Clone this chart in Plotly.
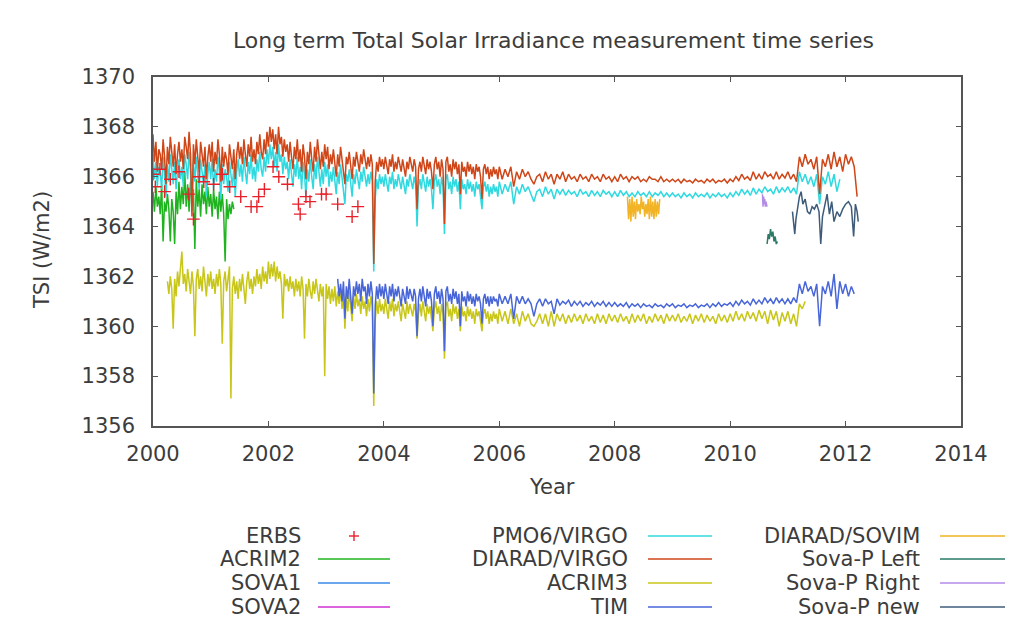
import plotly.graph_objects as go

# ---------------------------------------------------------------------------
# Total Solar Irradiance records (W/m2). The busy solar-maximum years are
# sampled on a finer step than the quiet years, so each of the long records
# is split into an "active" and a "quiet" block (start year, step, values).
# ---------------------------------------------------------------------------

DIARAD_VIRGO_ACTIVE_START, DIARAD_VIRGO_ACTIVE_STEP = 2000.00, 0.025
DIARAD_VIRGO_ACTIVE = [
    # 2000.0
    1367.7, 1366.6, 1367.4, 1366.2, 1367.1, 1366.9, 1366.3, 1367.5, 1366.8, 1365.7,
    1367.2, 1366.5, 1367.6, 1367.0, 1366.4, 1367.3, 1366.1, 1366.9, 1367.4, 1366.6,
    # 2000.5
    1367.1, 1366.3, 1367.6, 1367.2, 1366.7, 1367.8, 1366.9, 1364.4, 1367.3, 1366.5,
    1367.5, 1366.8, 1366.2, 1367.4, 1367.0, 1366.4, 1367.2, 1365.9, 1366.8, 1367.3,
    # 2001.0
    1366.6, 1367.4, 1366.2, 1367.0, 1366.5, 1367.5, 1366.9, 1365.8, 1367.2, 1366.4,
    1367.0, 1366.7, 1366.1, 1367.3, 1366.8, 1366.3, 1367.1, 1365.9, 1366.9, 1367.4,
    # 2001.5
    1366.7, 1367.2, 1366.5, 1367.5, 1366.9, 1366.4, 1367.3, 1366.8, 1367.6, 1366.6,
    1367.1, 1366.5, 1367.4, 1366.9, 1367.7, 1367.0, 1366.7, 1367.5, 1366.9, 1367.8,
    # 2002.0
    1367.2, 1368.0, 1367.4, 1367.9, 1367.1, 1367.7, 1366.9, 1368.0, 1367.3, 1367.6,
    1366.8, 1367.5, 1367.0, 1367.3, 1366.6, 1367.4, 1366.8, 1366.3, 1367.2, 1366.7,
    # 2002.5
    1367.5, 1366.6, 1367.1, 1366.2, 1367.3, 1366.8, 1365.9, 1367.0, 1366.5, 1367.4,
    1366.7, 1366.2, 1367.2, 1366.6, 1367.5, 1366.9, 1366.3, 1367.0, 1366.4, 1367.3,
    # 2003.0
    1366.7, 1367.2, 1366.3, 1366.9, 1366.5, 1367.1, 1366.6, 1366.0, 1366.9, 1366.4,
    1367.2, 1366.7, 1366.2, 1365.7, 1366.8, 1366.5, 1367.0, 1366.3, 1365.9, 1366.8,
    # 2003.5
    1366.4, 1367.0, 1366.6, 1366.2, 1366.9, 1366.5, 1367.1, 1366.6, 1366.3, 1366.8,
    1366.4, 1366.9, 1366.5, 1362.5, 1365.8, 1366.6, 1366.2, 1366.8, 1366.4, 1366.7,
    # 2004.0
    1366.3, 1366.8, 1366.5, 1366.1, 1366.7, 1366.4, 1366.9, 1366.2, 1366.6, 1366.3,
    1366.8, 1366.5, 1366.2, 1366.7, 1366.4, 1366.0, 1366.6, 1366.3, 1366.8, 1366.5,
    # 2004.5
    1366.2, 1366.7, 1366.4, 1364.7, 1366.3, 1366.6, 1366.2, 1366.8, 1366.4, 1366.1,
    1366.7, 1366.3, 1366.6, 1366.2, 1365.5, 1366.5, 1366.8, 1366.3, 1366.6, 1366.0,
    # 2005.0
    1366.7, 1366.3, 1364.1, 1366.6, 1366.8, 1366.2, 1366.5, 1366.0, 1366.7, 1366.3,
    1366.6, 1366.1, 1366.5, 1365.3, 1366.6, 1366.2, 1366.4, 1366.0, 1366.6, 1366.2,
    # 2005.5
    1366.5, 1366.1, 1366.4, 1365.9, 1366.5, 1366.2, 1366.4, 1366.0, 1365.1, 1366.3,
    1366.5, 1366.1, 1366.4, 1365.9, 1366.3, 1366.0, 1366.4, 1366.1, 1366.3, 1365.9,
]
DIARAD_VIRGO_QUIET_START, DIARAD_VIRGO_QUIET_STEP = 2006.00, 0.05
DIARAD_VIRGO_QUIET = [
    # 2006
    1366.4, 1365.9, 1366.3, 1366.0, 1366.4, 1365.6, 1366.2, 1365.9, 1366.3, 1366.0,
    1366.2, 1365.9, 1365.7, 1366.0, 1366.1, 1365.8, 1366.2, 1365.9, 1366.1, 1365.7,
    # 2007
    1366.1, 1365.9, 1366.2, 1365.8, 1366.1, 1365.9, 1366.0, 1365.8, 1366.1, 1365.9,
    1366.0, 1365.8, 1366.1, 1365.9, 1366.0, 1365.8, 1366.1, 1365.9, 1366.0, 1365.8,
    # 2008
    1366.0, 1365.8, 1366.1, 1365.9, 1366.0, 1365.8, 1366.0, 1365.9, 1366.0, 1365.8,
    1365.9, 1365.8, 1366.0, 1365.9, 1365.9, 1365.8, 1366.0, 1365.8, 1365.9, 1365.8,
    # 2009
    1365.9, 1365.8, 1365.9, 1365.75, 1365.9, 1365.8, 1365.85, 1365.75, 1365.9, 1365.8,
    1365.85, 1365.75, 1365.9, 1365.8, 1365.9, 1365.75, 1365.85, 1365.8, 1365.9, 1365.75,
    # 2010
    1365.9, 1365.8, 1366.0, 1365.85, 1366.1, 1365.9, 1366.0, 1365.85, 1366.2, 1365.9,
    1366.1, 1365.9, 1366.2, 1366.0, 1366.1, 1365.9, 1366.2, 1365.9, 1366.1, 1365.95,
    # 2011
    1366.2, 1365.9, 1366.1, 1365.8, 1366.8, 1366.4, 1366.9, 1366.5, 1366.7, 1366.3,
    1366.8, 1365.3, 1366.7, 1366.4, 1366.9, 1366.3, 1367.0, 1366.4, 1366.8, 1366.2,
    # 2012
    1366.9, 1366.5, 1366.8, 1366.4, 1365.2,
]

PMO6_VIRGO_ACTIVE_START, PMO6_VIRGO_ACTIVE_STEP = 2000.00, 0.025
PMO6_VIRGO_ACTIVE = [
    # 2000.0
    1366.9, 1365.9, 1366.6, 1365.6, 1366.4, 1366.2, 1365.5, 1366.8, 1366.1, 1365.2,
    1366.5, 1365.8, 1366.9, 1366.3, 1365.7, 1366.6, 1365.5, 1366.2, 1366.7, 1365.9,
    # 2000.5
    1366.4, 1365.6, 1366.9, 1366.5, 1365.9, 1367.0, 1366.2, 1364.6, 1366.6, 1365.8,
    1366.8, 1366.1, 1365.5, 1366.7, 1366.3, 1365.7, 1366.5, 1365.2, 1366.1, 1366.6,
    # 2001.0
    1365.9, 1366.7, 1365.5, 1366.3, 1365.8, 1366.8, 1366.2, 1365.1, 1366.5, 1365.7,
    1366.3, 1366.0, 1365.4, 1366.6, 1366.1, 1365.6, 1366.4, 1365.2, 1366.2, 1366.7,
    # 2001.5
    1366.0, 1366.5, 1365.8, 1366.8, 1366.2, 1365.7, 1366.6, 1366.1, 1366.9, 1365.9,
    1366.4, 1365.8, 1366.7, 1366.2, 1367.0, 1366.3, 1366.0, 1366.8, 1366.2, 1367.1,
    # 2002.0
    1366.5, 1367.3, 1366.7, 1367.2, 1366.4, 1367.0, 1366.2, 1367.3, 1366.6, 1366.9,
    1366.1, 1366.8, 1366.3, 1366.6, 1365.9, 1366.7, 1366.1, 1365.6, 1366.5, 1366.0,
    # 2002.5
    1366.8, 1365.9, 1366.4, 1365.5, 1366.6, 1366.1, 1365.2, 1366.3, 1365.8, 1366.7,
    1366.0, 1365.5, 1366.5, 1365.9, 1366.8, 1366.2, 1365.6, 1366.3, 1365.7, 1366.6,
    # 2003.0
    1366.0, 1366.5, 1365.6, 1366.2, 1365.8, 1366.4, 1365.9, 1365.3, 1366.2, 1365.7,
    1366.5, 1366.0, 1365.5, 1364.9, 1366.1, 1365.8, 1366.3, 1365.6, 1365.2, 1366.1,
    # 2003.5
    1365.7, 1366.3, 1365.9, 1365.5, 1366.2, 1365.8, 1366.4, 1365.9, 1365.6, 1366.1,
    1365.7, 1366.2, 1365.8, 1362.2, 1365.1, 1365.9, 1365.5, 1366.1, 1365.7, 1366.0,
    # 2004.0
    1365.6, 1366.1, 1365.8, 1365.4, 1366.0, 1365.7, 1366.2, 1365.5, 1365.9, 1365.6,
    1366.1, 1365.8, 1365.5, 1366.0, 1365.7, 1365.3, 1365.9, 1365.6, 1366.1, 1365.8,
    # 2004.5
    1365.5, 1366.0, 1365.7, 1364.0, 1365.6, 1365.9, 1365.5, 1366.1, 1365.7, 1365.4,
    1366.0, 1365.6, 1365.9, 1365.5, 1364.7, 1365.8, 1366.1, 1365.6, 1365.9, 1365.3,
    # 2005.0
    1366.0, 1365.6, 1363.7, 1365.9, 1366.1, 1365.5, 1365.8, 1365.3, 1366.0, 1365.6,
    1365.9, 1365.4, 1365.8, 1364.7, 1365.9, 1365.5, 1365.7, 1365.3, 1365.9, 1365.5,
    # 2005.5
    1365.8, 1365.4, 1365.7, 1365.2, 1365.8, 1365.5, 1365.7, 1365.3, 1364.7, 1365.6,
    1365.8, 1365.4, 1365.7, 1365.2, 1365.6, 1365.3, 1365.7, 1365.4, 1365.6, 1365.2,
]
PMO6_VIRGO_QUIET_START, PMO6_VIRGO_QUIET_STEP = 2006.00, 0.05
PMO6_VIRGO_QUIET = [
    # 2006
    1365.8, 1365.3, 1365.7, 1365.4, 1365.8, 1364.9, 1365.6, 1365.3, 1365.7, 1365.4,
    1365.6, 1365.3, 1365.0, 1365.4, 1365.5, 1365.2, 1365.6, 1365.3, 1365.5, 1365.1,
    # 2007
    1365.5, 1365.3, 1365.5, 1365.25, 1365.45, 1365.3, 1365.4, 1365.2, 1365.5, 1365.3,
    1365.4, 1365.2, 1365.45, 1365.25, 1365.4, 1365.2, 1365.45, 1365.3, 1365.4, 1365.2,
    # 2008
    1365.4, 1365.2, 1365.45, 1365.25, 1365.4, 1365.2, 1365.35, 1365.2, 1365.4, 1365.25,
    1365.35, 1365.2, 1365.4, 1365.2, 1365.35, 1365.25, 1365.4, 1365.2, 1365.35, 1365.2,
    # 2009
    1365.35, 1365.2, 1365.3, 1365.15, 1365.35, 1365.2, 1365.3, 1365.15, 1365.35, 1365.2,
    1365.3, 1365.2, 1365.35, 1365.15, 1365.3, 1365.2, 1365.35, 1365.2, 1365.3, 1365.15,
    # 2010
    1365.35, 1365.2, 1365.4, 1365.25, 1365.5, 1365.3, 1365.45, 1365.25, 1365.55, 1365.3,
    1365.5, 1365.35, 1365.6, 1365.4, 1365.5, 1365.3, 1365.6, 1365.35, 1365.55, 1365.4,
    # 2011
    1365.6, 1365.35, 1365.55, 1365.3, 1366.2, 1365.8, 1366.1, 1365.7, 1366.0, 1365.6,
    1366.1, 1364.9, 1366.0, 1365.7, 1366.2, 1365.6, 1366.1, 1365.4, 1365.9,
]

ACRIM2_START, ACRIM2_STEP = 2000.00, 0.025
ACRIM2 = [
    1365.4, 1364.6, 1365.6, 1364.8, 1365.2, 1364.5, 1365.7, 1363.4, 1365.0, 1364.6,
    1365.3, 1364.7, 1363.4, 1365.1, 1364.6, 1363.3, 1365.4, 1364.5, 1365.8, 1364.7,
    1365.6, 1364.9, 1366.2, 1364.8, 1365.7, 1364.6, 1365.8, 1365.0, 1365.5, 1363.1,
    1365.9, 1364.8, 1365.5, 1364.4, 1365.7, 1364.9, 1365.4, 1364.5, 1365.6, 1364.8,
    1365.3, 1364.4, 1365.5, 1364.7, 1365.2, 1364.3, 1365.4, 1364.6, 1365.3, 1364.5,
    1362.6, 1365.1, 1364.3, 1364.9, 1364.5, 1365.0, 1364.7,
]

ACRIM3_ACTIVE_START, ACRIM3_ACTIVE_STEP = 2000.25, 0.025
ACRIM3_ACTIVE = [
    # 2000.25
    1361.8, 1361.3, 1362.0, 1361.5, 1359.9, 1361.9, 1361.2, 1362.2, 1361.6, 1362.4,
    # 2000.5
    1363.0, 1361.7, 1362.1, 1361.4, 1362.3, 1361.8, 1361.3, 1362.2, 1361.6, 1359.6,
    1361.9, 1362.3, 1361.5, 1362.0, 1361.4, 1362.4, 1361.7, 1361.2, 1362.1, 1361.6,
    # 2001.0
    1362.2, 1361.5, 1361.9, 1361.3, 1362.1, 1361.6, 1362.3, 1361.7, 1359.3, 1361.8,
    1362.2, 1361.4, 1361.9, 1362.4, 1357.1, 1361.5, 1362.0, 1361.3, 1361.8, 1361.1,
    # 2001.5
    1361.9, 1361.4, 1362.1, 1361.6, 1360.9, 1361.8, 1362.2, 1361.5, 1361.9, 1361.3,
    1362.0, 1361.6, 1362.3, 1361.7, 1362.1, 1361.5, 1362.4, 1361.8, 1362.2, 1361.7,
    # 2002.0
    1362.6, 1361.9, 1362.5, 1362.0, 1362.6, 1361.8, 1362.4, 1361.9, 1362.2, 1361.7,
    1360.3, 1362.1, 1361.6, 1361.9, 1361.4, 1362.0, 1361.5, 1361.8, 1361.2, 1361.9,
    # 2002.5
    1361.4, 1361.8, 1361.2, 1362.0, 1361.5, 1359.5, 1361.7, 1361.2, 1361.9, 1361.4,
    1361.1, 1361.8, 1361.3, 1361.9, 1361.5, 1361.0, 1361.7, 1361.2, 1361.6, 1358.0,
    # 2003.0
    1361.7, 1361.1, 1361.6, 1360.9, 1361.5, 1361.0, 1361.6, 1360.8, 1361.4, 1360.9,
    1361.5, 1360.7, 1361.3, 1359.9, 1361.2, 1360.6, 1361.4, 1360.8, 1360.2, 1361.2,
    # 2003.5
    1360.7, 1361.3, 1360.8, 1361.1, 1360.5, 1361.2, 1360.7, 1361.0, 1360.4, 1361.1,
    1360.6, 1361.2, 1360.8, 1356.8, 1360.2, 1361.0, 1360.5, 1361.1, 1360.6, 1360.9,
    # 2004.0
    1360.5, 1361.1, 1360.7, 1360.3, 1361.0, 1360.6, 1361.1, 1360.4, 1360.9, 1360.6,
    1361.0, 1360.5, 1360.2, 1360.9, 1360.6, 1360.3, 1361.0, 1360.5, 1360.9, 1360.6,
    # 2004.5
    1360.4, 1360.9, 1360.6, 1359.5, 1360.5, 1360.9, 1360.4, 1361.0, 1360.6, 1360.2,
    1360.9, 1360.5, 1360.8, 1360.4, 1359.8, 1360.7, 1361.0, 1360.5, 1360.8, 1360.2,
    # 2005.0
    1360.9, 1360.5, 1358.7, 1360.8, 1361.0, 1360.4, 1360.7, 1360.2, 1360.9, 1360.5,
    1360.8, 1360.3, 1360.7, 1359.8, 1360.8, 1360.4, 1360.6, 1360.2, 1360.8, 1360.4,
    # 2005.5
    1360.7, 1360.3, 1360.6, 1360.1, 1360.7, 1360.4, 1360.6, 1360.2, 1359.8, 1360.5,
    1360.7, 1360.3, 1360.6, 1360.1, 1360.5, 1360.2, 1360.6, 1360.3, 1360.5, 1360.1,
]
ACRIM3_QUIET_START, ACRIM3_QUIET_STEP = 2006.00, 0.05
ACRIM3_QUIET = [
    # 2006
    1360.7, 1360.2, 1360.6, 1360.1, 1360.7, 1360.1, 1360.5, 1360.0, 1360.6, 1360.2,
    1360.5, 1360.1, 1360.0, 1360.2, 1360.5, 1360.1, 1360.5, 1360.0, 1360.6, 1360.0,
    # 2007
    1360.5, 1360.2, 1360.5, 1360.1, 1360.45, 1360.15, 1360.5, 1360.2, 1360.45, 1360.1,
    1360.5, 1360.2, 1360.4, 1360.1, 1360.5, 1360.15, 1360.45, 1360.1, 1360.5, 1360.2,
    # 2008
    1360.45, 1360.15, 1360.5, 1360.2, 1360.4, 1360.1, 1360.5, 1360.15, 1360.45, 1360.2,
    1360.5, 1360.1, 1360.4, 1360.15, 1360.5, 1360.2, 1360.45, 1360.1, 1360.5, 1360.2,
    # 2009
    1360.45, 1360.2, 1360.5, 1360.15, 1360.4, 1360.2, 1360.5, 1360.1, 1360.45, 1360.2,
    1360.5, 1360.15, 1360.45, 1360.2, 1360.4, 1360.1, 1360.5, 1360.2, 1360.45, 1360.15,
    # 2010
    1360.5, 1360.2, 1360.6, 1360.25, 1360.5, 1360.2, 1360.6, 1360.3, 1360.55, 1360.2,
    1360.65, 1360.3, 1360.6, 1360.1, 1360.65, 1360.25, 1360.6, 1360.0, 1360.55, 1360.2,
    # 2011.00 - 2011.30
    1360.6, 1360.1, 1360.5, 1360.0, 1360.9, 1360.7, 1361.0,
]

TIM_ACTIVE_START, TIM_ACTIVE_STEP = 2003.20, 0.025
TIM_ACTIVE = [
    # 2003.2
    1361.9, 1361.2, 1361.7, 1361.0, 1361.8, 1360.3, 1361.6, 1361.1, 1361.9, 1361.3,
    1360.5, 1361.6,
    # 2003.5
    1361.2, 1361.8, 1361.3, 1361.7, 1361.0, 1361.9, 1361.4, 1361.6, 1360.9, 1361.7,
    1361.2, 1361.8, 1361.3, 1357.3, 1360.8, 1361.6, 1361.1, 1361.7, 1361.2, 1361.6,
    # 2004.0
    1361.1, 1361.7, 1361.3, 1360.9, 1361.6, 1361.2, 1361.7, 1361.0, 1361.5, 1361.2,
    1361.6, 1361.1, 1360.8, 1361.5, 1361.2, 1360.9, 1361.6, 1361.1, 1361.5, 1361.2,
    # 2004.5
    1361.0, 1361.5, 1361.2, 1359.6, 1361.1, 1361.5, 1361.0, 1361.6, 1361.2, 1360.8,
    1361.5, 1361.1, 1361.4, 1361.0, 1360.0, 1361.3, 1361.6, 1361.1, 1361.4, 1360.9,
    # 2005.0
    1361.5, 1361.1, 1359.0, 1361.4, 1361.6, 1361.0, 1361.3, 1360.9, 1361.5, 1361.1,
    1361.4, 1360.9, 1361.3, 1360.0, 1361.4, 1361.0, 1361.2, 1360.8, 1361.4, 1361.0,
    # 2005.5
    1361.3, 1360.9, 1361.2, 1360.8, 1361.3, 1361.0, 1361.2, 1360.9, 1360.1, 1361.1,
    1361.3, 1360.9, 1361.2, 1360.8, 1361.2, 1360.9, 1361.2, 1361.0, 1361.1, 1360.8,
]
TIM_QUIET_START, TIM_QUIET_STEP = 2006.00, 0.05
TIM_QUIET = [
    # 2006
    1361.3, 1360.9, 1361.2, 1360.9, 1361.3, 1360.3, 1361.2, 1360.9, 1361.2, 1360.9,
    1361.1, 1360.9, 1360.4, 1360.9, 1361.1, 1360.8, 1361.1, 1360.9, 1361.0, 1360.5,
    # 2007
    1361.1, 1360.85, 1361.0, 1360.9, 1361.05, 1360.8, 1361.0, 1360.85, 1361.0, 1360.8,
    1360.95, 1360.85, 1361.0, 1360.8, 1360.95, 1360.85, 1361.0, 1360.8, 1360.95, 1360.8,
    # 2008
    1360.95, 1360.8, 1360.9, 1360.8, 1360.95, 1360.75, 1360.9, 1360.8, 1360.9, 1360.75,
    1360.9, 1360.8, 1360.85, 1360.75, 1360.9, 1360.8, 1360.85, 1360.75, 1360.9, 1360.8,
    # 2009
    1360.9, 1360.75, 1360.85, 1360.8, 1360.9, 1360.75, 1360.85, 1360.8, 1360.9, 1360.75,
    1360.85, 1360.8, 1360.9, 1360.75, 1360.9, 1360.8, 1360.95, 1360.8, 1360.9, 1360.85,
    # 2010
    1360.95, 1360.8, 1361.0, 1360.85, 1361.05, 1360.9, 1361.0, 1360.85, 1361.1, 1360.9,
    1361.05, 1360.9, 1361.15, 1360.95, 1361.1, 1360.9, 1361.15, 1360.95, 1361.1, 1360.9,
    # 2011
    1361.1, 1360.9, 1361.15, 1360.95, 1361.7, 1361.3, 1361.8, 1361.4, 1361.6, 1361.2,
    1361.7, 1360.0, 1361.6, 1361.3, 1361.8, 1361.2, 1362.1, 1360.7, 1361.8, 1361.3,
    # 2012.00 - 2012.15
    1361.7, 1361.2, 1361.6, 1361.3,
]

DIARAD_SOVIM_START, DIARAD_SOVIM_STEP = 2008.22, 0.02
DIARAD_SOVIM = [
    1365.2, 1364.3, 1365.1, 1364.2, 1365.2, 1364.4, 1365.0, 1364.3, 1365.1, 1364.6,
    1364.9, 1364.5, 1365.2, 1364.7, 1365.0, 1364.4, 1364.9, 1364.5, 1365.1, 1364.3,
    1365.2, 1364.4, 1365.0, 1364.3, 1365.1, 1364.4, 1365.0, 1364.5, 1365.1,
]

SOVAP_RIGHT_START, SOVAP_RIGHT_STEP = 2010.56, 0.01
SOVAP_RIGHT = [1365.3, 1364.8, 1365.2, 1364.9, 1365.1, 1364.8, 1365.0, 1364.9, 1364.8]

SOVAP_LEFT_START, SOVAP_LEFT_STEP = 2010.64, 0.02
SOVAP_LEFT = [1363.3, 1363.7, 1363.5, 1363.9, 1363.6, 1363.8, 1363.4, 1363.6, 1363.3, 1363.4]

# Irregularly sampled records
SOVAP_NEW_YEARS = [
    2011.08, 2011.10, 2011.12, 2011.14, 2011.17, 2011.20, 2011.23, 2011.26, 2011.30, 2011.34,
    2011.38, 2011.42, 2011.46, 2011.50, 2011.54, 2011.57, 2011.60, 2011.64, 2011.68, 2011.72,
    2011.76, 2011.80, 2011.85, 2011.90, 2011.95, 2012.00, 2012.05, 2012.10, 2012.14, 2012.17,
    2012.20, 2012.22,
]
SOVAP_NEW = [
    1364.6, 1364.2, 1363.7, 1364.3, 1364.8, 1365.2, 1365.4, 1364.9, 1365.1, 1364.6,
    1364.5, 1364.8, 1364.7, 1364.9, 1364.6, 1363.3, 1364.4, 1364.9, 1365.3, 1364.5,
    1365.0, 1364.2, 1364.6, 1364.4, 1364.7, 1364.9, 1365.0, 1364.8, 1363.6, 1364.9,
    1364.6, 1364.2,
]

ERBS_YEARS = [
    2000.00, 2000.04, 2000.12, 2000.20, 2000.30, 2000.45, 2000.62, 2000.70, 2000.80, 2000.88,
    2001.05, 2001.20, 2001.33, 2001.52, 2001.70, 2001.80, 2001.83, 2001.93, 2002.08, 2002.18,
    2002.33, 2002.52, 2002.55, 2002.65, 2002.72, 2002.92, 2003.00, 2003.20, 2003.45, 2003.55,
]
ERBS = [
    1366.1, 1365.6, 1366.3, 1365.4, 1365.9, 1366.2, 1365.3, 1364.3, 1366.0, 1365.8,
    1365.7, 1366.1, 1365.6, 1365.2, 1364.8, 1364.8, 1365.2, 1365.5, 1366.4, 1366.0,
    1365.7, 1364.9, 1364.5, 1365.2, 1365.0, 1365.3, 1365.3, 1364.9, 1364.4, 1364.8,
]

# Earlier missions: no samples inside the 2000-2014 window
SOVA1_YEARS, SOVA1 = [], []
SOVA2_YEARS, SOVA2 = [], []

X_TICKS = [2000, 2002, 2004, 2006, 2008, 2010, 2012, 2014]
Y_TICKS = [1356, 1358, 1360, 1362, 1364, 1366, 1368, 1370]

COLORS = {
    "ERBS": "#E8202A",
    "ACRIM2": "#1FB41F",
    "SOVA1": "#3A8AE8",
    "SOVA2": "#D030D0",
    "PMO6/VIRGO": "#2FD9E0",
    "DIARAD/VIRGO": "#CF4618",
    "ACRIM3": "#C8C618",
    "TIM": "#4866D8",
    "DIARAD/SOVIM": "#F2B424",
    "Sova-P Left": "#2A7A66",
    "Sova-P Right": "#B48AE8",
    "Sova-P new": "#3E5C7A",
}


def year_axis(start, step, n):
    return [round(start + step * i, 4) for i in range(n)]


def blocks(*parts):
    """Join (start, step, values) blocks into one (years, values) pair."""
    xs, ys = [], []
    for start, step, vals in parts:
        xs += year_axis(start, step, len(vals))
        ys += vals
    return xs, ys


# --- canvas geometry (pixels) ---
W, H = 1013, 620
PLOT_L, PLOT_R, PLOT_T, PLOT_B = 153, 961, 77, 426
FONT = "DejaVu Sans, Liberation Sans, Arial, sans-serif"
TEXT_COLOR = "#3c3c3c"
AXIS_COLOR = "#555555"
TEXT_SIZE = 21


def px(x):
    return (x - PLOT_L) / (PLOT_R - PLOT_L)


def py(y):
    return (PLOT_B - y) / (PLOT_B - PLOT_T)


fig = go.Figure()

line_series = [
    ("ACRIM2", blocks((ACRIM2_START, ACRIM2_STEP, ACRIM2))),
    ("SOVA1", (SOVA1_YEARS, SOVA1)),
    ("SOVA2", (SOVA2_YEARS, SOVA2)),
    ("PMO6/VIRGO", blocks((PMO6_VIRGO_ACTIVE_START, PMO6_VIRGO_ACTIVE_STEP, PMO6_VIRGO_ACTIVE),
                          (PMO6_VIRGO_QUIET_START, PMO6_VIRGO_QUIET_STEP, PMO6_VIRGO_QUIET))),
    ("DIARAD/VIRGO", blocks((DIARAD_VIRGO_ACTIVE_START, DIARAD_VIRGO_ACTIVE_STEP, DIARAD_VIRGO_ACTIVE),
                            (DIARAD_VIRGO_QUIET_START, DIARAD_VIRGO_QUIET_STEP, DIARAD_VIRGO_QUIET))),
    ("ACRIM3", blocks((ACRIM3_ACTIVE_START, ACRIM3_ACTIVE_STEP, ACRIM3_ACTIVE),
                      (ACRIM3_QUIET_START, ACRIM3_QUIET_STEP, ACRIM3_QUIET))),
    ("TIM", blocks((TIM_ACTIVE_START, TIM_ACTIVE_STEP, TIM_ACTIVE),
                   (TIM_QUIET_START, TIM_QUIET_STEP, TIM_QUIET))),
    ("DIARAD/SOVIM", blocks((DIARAD_SOVIM_START, DIARAD_SOVIM_STEP, DIARAD_SOVIM))),
    ("Sova-P Left", blocks((SOVAP_LEFT_START, SOVAP_LEFT_STEP, SOVAP_LEFT))),
    ("Sova-P Right", blocks((SOVAP_RIGHT_START, SOVAP_RIGHT_STEP, SOVAP_RIGHT))),
    ("Sova-P new", (SOVAP_NEW_YEARS, SOVAP_NEW)),
]

for name, (xs, ys) in line_series:
    fig.add_trace(go.Scatter(
        x=xs, y=ys, mode="lines", name=name, showlegend=False,
        line=dict(color=COLORS[name], width=1.5),
    ))

fig.add_trace(go.Scatter(
    x=ERBS_YEARS, y=ERBS, mode="markers", name="ERBS", showlegend=False,
    marker=dict(symbol="cross-thin", size=9, line=dict(color=COLORS["ERBS"], width=1.4)),
))

# --- key below the plot: right-aligned label followed by a line sample ---
KEY_ROWS = [536, 559, 583, 607]
KEY_COLUMNS = [
    (303, 318, 390, ["ERBS", "ACRIM2", "SOVA1", "SOVA2"]),
    (630, 648, 712, ["PMO6/VIRGO", "DIARAD/VIRGO", "ACRIM3", "TIM"]),
    (922, 940, 1005, ["DIARAD/SOVIM", "Sova-P Left", "Sova-P Right", "Sova-P new"]),
]

annotations = []
shapes = []
for text_right, s0, s1, names in KEY_COLUMNS:
    for row_y, name in zip(KEY_ROWS, names):
        annotations.append(dict(
            x=px(text_right), y=py(row_y), xref="paper", yref="paper",
            text=name, showarrow=False, xanchor="right", yanchor="middle",
            font=dict(family=FONT, size=TEXT_SIZE, color=TEXT_COLOR),
        ))
        if name == "ERBS":
            cx, half = (s0 + s1) / 2, 5
            shapes.append(dict(type="line", xref="paper", yref="paper",
                               x0=px(cx - half), x1=px(cx + half), y0=py(row_y), y1=py(row_y),
                               line=dict(color=COLORS[name], width=1.4)))
            shapes.append(dict(type="line", xref="paper", yref="paper",
                               x0=px(cx), x1=px(cx), y0=py(row_y - half), y1=py(row_y + half),
                               line=dict(color=COLORS[name], width=1.4)))
        else:
            shapes.append(dict(type="line", xref="paper", yref="paper",
                               x0=px(s0), x1=px(s1), y0=py(row_y), y1=py(row_y),
                               line=dict(color=COLORS[name], width=1.6)))

# title and axis titles
annotations.append(dict(
    x=px(553), y=py(40), xref="paper", yref="paper", showarrow=False,
    text="Long term Total Solar Irradiance measurement time series",
    xanchor="center", yanchor="middle",
    font=dict(family=FONT, size=22, color=TEXT_COLOR),
))
annotations.append(dict(
    x=px(552), y=py(487), xref="paper", yref="paper", showarrow=False,
    text="Year", xanchor="center", yanchor="middle",
    font=dict(family=FONT, size=TEXT_SIZE, color=TEXT_COLOR),
))
annotations.append(dict(
    x=px(42), y=py(250), xref="paper", yref="paper", showarrow=False,
    text="TSI (W/m2)", textangle=-90, xanchor="center", yanchor="middle",
    font=dict(family=FONT, size=TEXT_SIZE, color=TEXT_COLOR),
))

axis_common = dict(
    showline=True, linecolor=AXIS_COLOR, linewidth=1.6, mirror="ticks",
    ticks="inside", ticklen=5, tickwidth=1.3, tickcolor=AXIS_COLOR,
    showgrid=False, zeroline=False,
    tickfont=dict(family=FONT, size=TEXT_SIZE, color=TEXT_COLOR),
)

fig.update_layout(
    width=W, height=H,
    margin=dict(l=PLOT_L, r=W - PLOT_R, t=PLOT_T, b=H - PLOT_B, pad=0),
    paper_bgcolor="white", plot_bgcolor="white",
    showlegend=False,
    xaxis=dict(range=[2000, 2014], tickmode="array", tickvals=X_TICKS,
               ticktext=[str(t) for t in X_TICKS], ticklabelstandoff=8, **axis_common),
    yaxis=dict(range=[1356, 1370], tickmode="array", tickvals=Y_TICKS,
               ticktext=[str(t) for t in Y_TICKS], ticklabelstandoff=12, **axis_common),
    annotations=annotations,
    shapes=shapes,
)

fig.write_html("out.html")
